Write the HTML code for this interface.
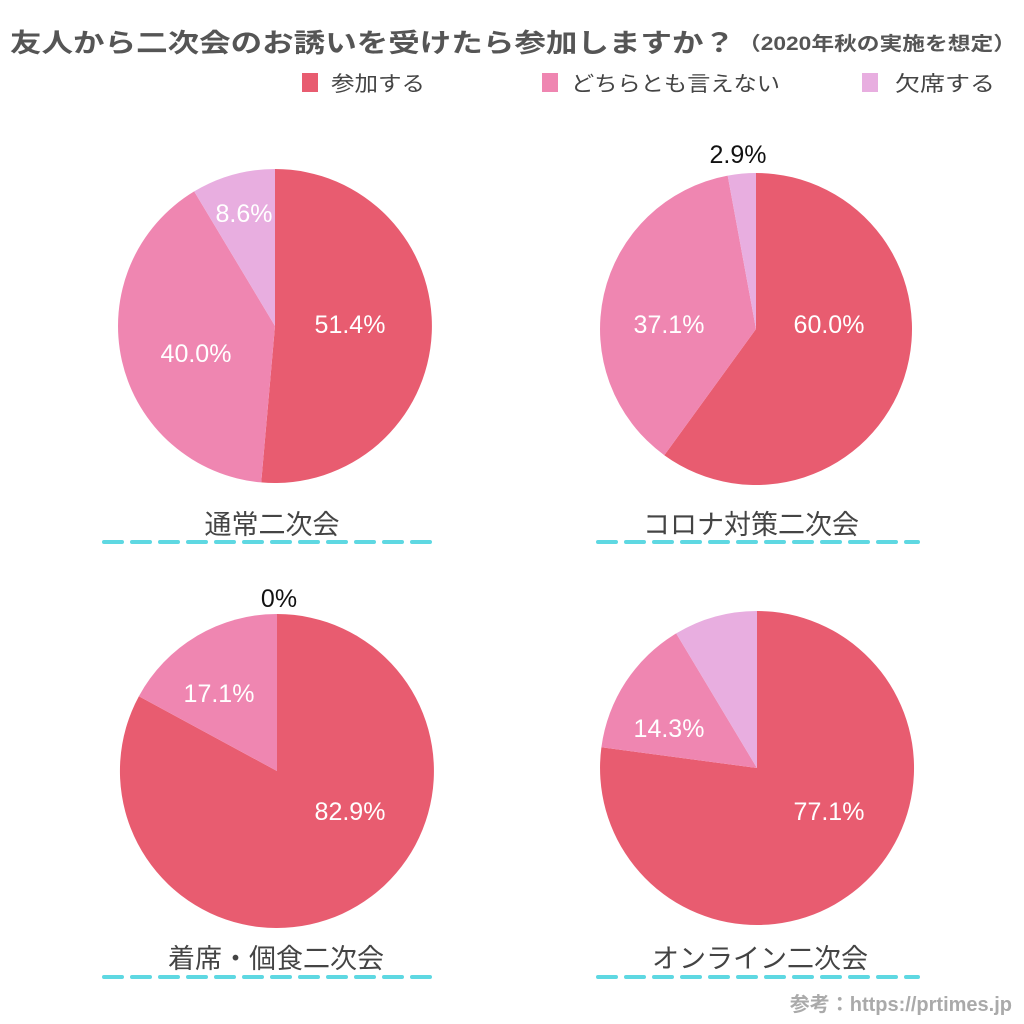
<!DOCTYPE html>
<html><head><meta charset="utf-8"><style>
html,body{margin:0;padding:0;background:#fff;}
svg{display:block;}
text{font-family:"Liberation Sans","Noto Sans CJK JP",sans-serif;}
</style></head><body>
<svg width="1024" height="1024" viewBox="0 0 1024 1024" xmlns="http://www.w3.org/2000/svg">
<rect width="1024" height="1024" fill="#fff"/>
<text x="10" y="52" font-size="26" font-weight="bold" fill="#555" textLength="725" lengthAdjust="spacingAndGlyphs">友人から二次会のお誘いを受けたら参加しますか？</text>
<text x="738" y="50" font-size="19" font-weight="bold" fill="#555" textLength="278" lengthAdjust="spacingAndGlyphs">（2020年秋の実施を想定）</text>
<rect x="302" y="73" width="16" height="19" fill="#E85C70"/>
<text x="331" y="91" font-size="21" fill="#444" textLength="94" lengthAdjust="spacingAndGlyphs">参加する</text>
<rect x="542" y="73" width="16" height="19" fill="#EF86B1"/>
<text x="571" y="91" font-size="21" fill="#444" textLength="209" lengthAdjust="spacingAndGlyphs">どちらとも言えない</text>
<rect x="862" y="73" width="16" height="19" fill="#E8AEE0"/>
<text x="895" y="91" font-size="21" fill="#444" textLength="100" lengthAdjust="spacingAndGlyphs">欠席する</text>

<path d="M275,326 L275,169 A157,157 0 1 1 261.2,482.4 Z" fill="#E85C70"/>
<path d="M275,326 L261.2,482.4 A157,157 0 0 1 194.2,191.4 Z" fill="#EF86B1"/>
<path d="M275,326 L194.2,191.4 A157,157 0 0 1 275,169 Z" fill="#E8AEE0"/>
<path d="M756,329 L756,173 A156,156 0 1 1 664.3,455.2 Z" fill="#E85C70"/>
<path d="M756,329 L664.3,455.2 A156,156 0 0 1 727.7,175.6 Z" fill="#EF86B1"/>
<path d="M756,329 L727.7,175.6 A156,156 0 0 1 756,173 Z" fill="#E8AEE0"/>
<path d="M277,771 L277,614 A157,157 0 1 1 138.9,696.2 Z" fill="#E85C70"/>
<path d="M277,771 L138.9,696.2 A157,157 0 0 1 277,614 Z" fill="#EF86B1"/>
<path d="M757,768 L757,611 A157,157 0 1 1 601.4,747.3 Z" fill="#E85C70"/>
<path d="M757,768 L601.4,747.3 A157,157 0 0 1 676.2,633.4 Z" fill="#EF86B1"/>
<path d="M757,768 L676.2,633.4 A157,157 0 0 1 757,611 Z" fill="#E8AEE0"/>

<g font-size="25" fill="#fff" text-anchor="middle">
<text x="350" y="333">51.4%</text>
<text x="196" y="362">40.0%</text>
<text x="244" y="222">8.6%</text>
<text x="829" y="333">60.0%</text>
<text x="669" y="333">37.1%</text>
<text x="350" y="820">82.9%</text>
<text x="219" y="702">17.1%</text>
<text x="829" y="820">77.1%</text>
<text x="669" y="737">14.3%</text>
</g>
<g font-size="25" fill="#111" text-anchor="middle">
<text x="738" y="163">2.9%</text>
<text x="279" y="607">0%</text>
</g>
<g font-size="27" fill="#444" text-anchor="middle">
<text x="272" y="534">通常二次会</text>
<text x="751" y="534">コロナ対策二次会</text>
<text x="276" y="968">着席・個食二次会</text>
<text x="760" y="968">オンライン二次会</text>
</g>
<g stroke="#5ED8E2" stroke-width="4" stroke-dasharray="18,10" stroke-linecap="round">
<line x1="104" y1="542" x2="440" y2="542"/>
<line x1="598" y1="542" x2="918" y2="542"/>
<line x1="104" y1="977" x2="440" y2="977"/>
<line x1="598" y1="977" x2="918" y2="977"/>
</g>
<text x="1012" y="1011" font-size="20" font-weight="bold" fill="#aaa" text-anchor="end">参考：https://prtimes.jp</text>
</svg>
</body></html>
